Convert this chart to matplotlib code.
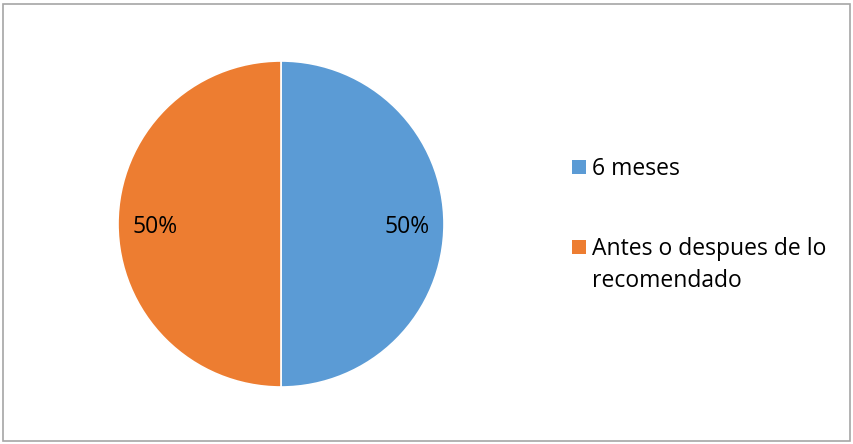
import matplotlib
matplotlib.use("Agg")
import matplotlib.pyplot as plt
from matplotlib.patches import Rectangle

categories = ["6 meses", "Antes o despues de lo\nrecomendado"]
shares = [50, 50]
colors = ["#5B9BD5", "#ED7D31"]

plt.rcParams["font.family"] = ["Open Sans", "DejaVu Sans"]
FS = 16.5

W, H = 854, 444
fig = plt.figure(figsize=(W / 100, H / 100), dpi=100)

# chart frame
fig.patches.append(Rectangle((3.5 / W, 3.5 / H), (850 - 3.5) / W, (440 - 3.5) / H,
                             transform=fig.transFigure, fill=False,
                             edgecolor="#A6A6A6", linewidth=1.2))

cx, cy, r = 281, 224, 163
ax = fig.add_axes([(cx - r) / W, (H - cy - r) / H, 2 * r / W, 2 * r / H])
wedges, texts, autotexts = ax.pie(
    shares, colors=colors, startangle=90, counterclock=False,
    autopct="%d%%", pctdistance=0.775,
    wedgeprops=dict(edgecolor="white", linewidth=1.2),
    textprops=dict(fontsize=FS, color="black"))
for t in autotexts:
    x, y = t.get_position()
    t.set_position((x, y - 0.018))
ax.set_xlim(-1.0, 1.0)
ax.set_ylim(-1.0, 1.0)
ax.set_aspect("equal")

# legend: square swatch aligned with the first line of each label
entry_y = [167, 247]  # pixel rows (from top) of each entry's first line
for label, color, y in zip(categories, colors, entry_y):
    fig.patches.append(Rectangle((572 / W, 1 - (y + 7) / H), 14 / W, 14 / H,
                                 transform=fig.transFigure, facecolor=color,
                                 edgecolor="none"))
    fig.text(592 / W, 1 - (y - 10) / H, label, fontsize=FS, color="black",
             ha="left", va="top", linespacing=1.45)

fig.savefig("out.png", dpi=100)
